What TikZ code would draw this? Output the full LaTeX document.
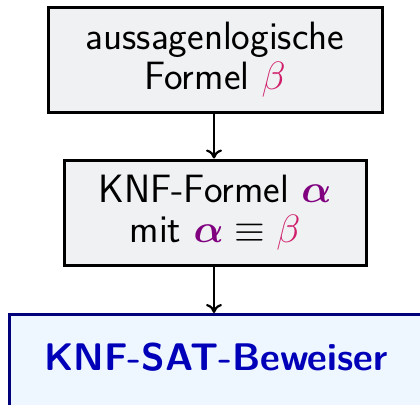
\RequirePackage{fix-cm}
\documentclass[tikz,border=0pt]{standalone}
\usepackage{amsmath,amssymb}
\usepackage{tikz}
\usetikzlibrary{arrows.meta,positioning}
\definecolor{cG}{HTML}{F0F1F3}
\definecolor{cL}{HTML}{EEF6FF}
\definecolor{cN}{HTML}{00007A}
\definecolor{cB}{HTML}{0000B8}
\definecolor{cP}{HTML}{D01F6A}
\definecolor{cV}{HTML}{800080}
\tikzset{
  stepbox/.style={draw=black,line width=3pt,fill=cG,align=center,
              inner sep=0pt,font=\sffamily\fontsize{39.5}{40}\selectfont},
  solver/.style={draw=cN,line width=3pt,fill=cL,inner sep=0pt,
              font=\sffamily\bfseries\fontsize{38.5}{40}\selectfont,text=cB},
  flow/.style={-{To[length=9pt,width=16pt]},line width=2.2pt},
}
\newcommand{\fb}{\textcolor{cP}{\beta}}
\newcommand{\fa}{\textcolor{cV}{\boldsymbol{\alpha}}}

\begin{document}
\begin{tikzpicture}[x=1pt,y=-1pt]
  \useasboundingbox (0,0) rectangle (420,404);
  \node[stepbox,minimum width=334pt,minimum height=104pt] (prop) at (215,60)
    {aussagenlogische\\Formel $\fb$};
  \node[stepbox,minimum width=302pt,minimum height=105pt] (cnf) at (215,212.5)
    {KNF-Formel $\fa$\\mit $\fa\equiv\fb$};
  \node[solver,minimum width=414pt,minimum height=110pt,anchor=north west] (sat) at (8,313) {};
  \node[solver,draw=none,fill=none] (satlbl) at (216,357) {KNF-SAT-Beweiser};
  \coordinate (c1) at (214,0);
  \draw[flow] (prop.south -| c1) -- (cnf.north -| c1);
  \draw[flow] (cnf.south -| c1) -- (sat.north -| c1);
\end{tikzpicture}
\end{document}
